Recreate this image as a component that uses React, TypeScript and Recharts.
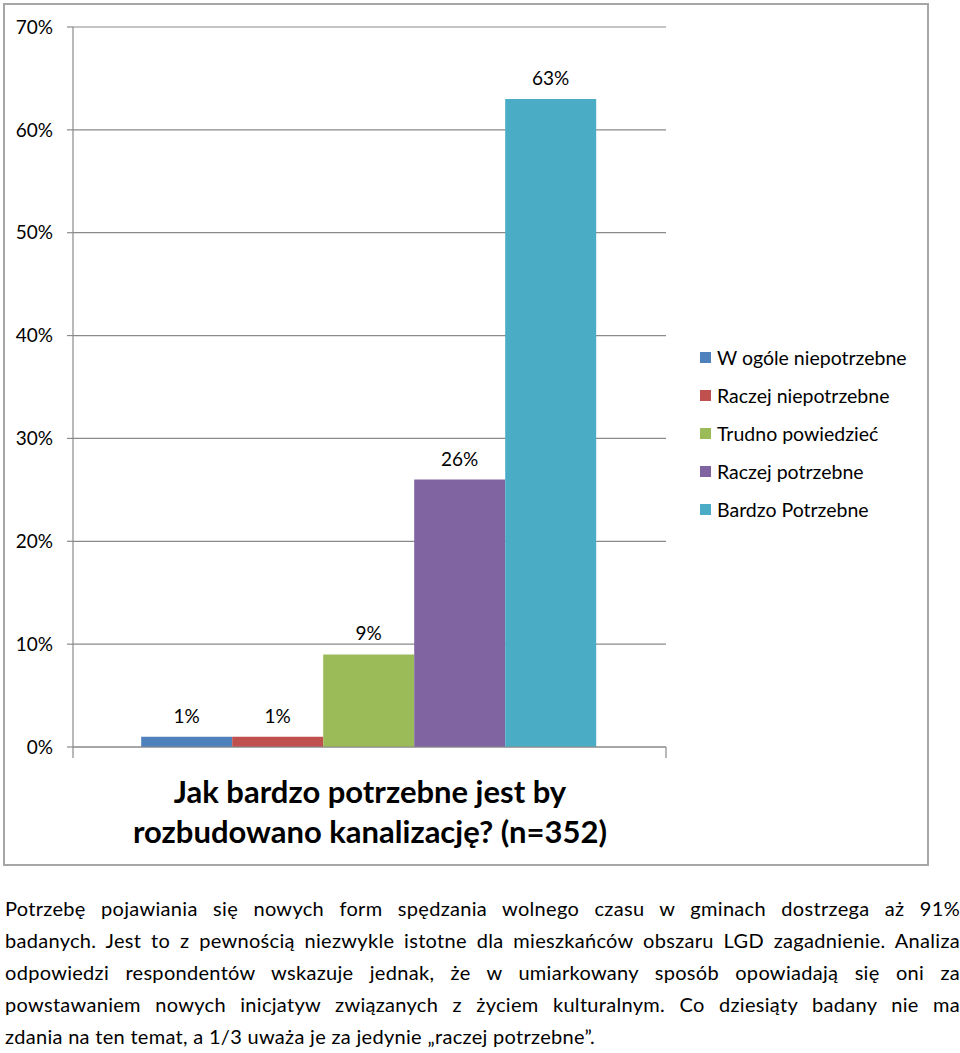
import { BarChart, Bar, XAxis, YAxis, CartesianGrid, Legend, LabelList } from "recharts";

const categories = ["Jak bardzo potrzebne jest by rozbudowano kanalizację? (n=352)"];
const titleLines = ["Jak bardzo potrzebne jest by", "rozbudowano kanalizację? (n=352)"];
const seriesNames = [
  "W ogóle niepotrzebne",
  "Raczej niepotrzebne",
  "Trudno powiedzieć",
  "Raczej potrzebne",
  "Bardzo Potrzebne",
];
const seriesValues = [1, 1, 9, 26, 63];
const seriesColors = ["#4F81BD", "#C0504D", "#9BBB59", "#8064A2", "#4BACC6"];
const yTicks = [0, 10, 20, 30, 40, 50, 60, 70];
const paragraphLines = [
  "Potrzebę pojawiania się nowych form spędzania wolnego czasu w gminach dostrzega aż 91%",
  "badanych. Jest to z pewnością niezwykle istotne dla mieszkańców obszaru LGD zagadnienie. Analiza",
  "odpowiedzi respondentów wskazuje jednak, że w umiarkowany sposób opowiadają się oni za",
  "powstawaniem nowych inicjatyw związanych z życiem kulturalnym. Co dziesiąty badany nie ma",
  "zdania na ten temat, a 1/3 uważa je za jedynie „raczej potrzebne”.",
];

const data = categories.map((name) => {
  const row: Record<string, string | number> = { name };
  seriesNames.forEach((s, i) => (row[s] = seriesValues[i]));
  return row;
});

const font = "Lato, 'Open Sans', sans-serif";
const gray = "#8a8a8a";

function LegendBox({ payload }: any) {
  const items = [...(payload || [])].sort(
    (a: any, b: any) => seriesNames.indexOf(a.value) - seriesNames.indexOf(b.value)
  );
  return (
    <div>
      {items.map((p: any) => (
        <div key={p.value} style={{ height: 38, display: "flex", alignItems: "center", fontSize: 19.5, color: "#000" }}>
          <span style={{ width: 11, height: 11, background: p.color, display: "inline-block", marginRight: 6 }} />
          {p.value}
        </div>
      ))}
    </div>
  );
}

// category boundary tick marks (Excel style), label is drawn as the title below
function BoundaryTick(props: any) {
  const { x, y, payload, width } = props;
  const half = payload && typeof payload.offset === "number" && payload.offset > 0 ? payload.offset : width / 2;
  return (
    <g>
      <line x1={x - half} x2={x - half} y1={y} y2={y + 11} stroke={gray} strokeWidth={1.2} />
      <line x1={x + half} x2={x + half} y1={y} y2={y + 11} stroke={gray} strokeWidth={1.2} />
    </g>
  );
}

export default function App() {
  return (
    <div style={{ position: "absolute", left: 0, top: 0, width: 960, height: 1053, background: "#fff", fontFamily: font }}>
      <div
        style={{
          position: "absolute",
          left: 3,
          top: 3,
          width: 922,
          height: 859,
          border: "2px solid #a6a6a6",
        }}
      />
      <div style={{ position: "absolute", left: 0, top: 0 }}>
        <BarChart
          width={930}
          height={870}
          data={data}
          margin={{ top: 27, left: 0, right: 264, bottom: 112 }}
          barCategoryGap="11.5%"
          barGap={0}
        >
          <CartesianGrid vertical={false} stroke={gray} strokeWidth={1.2} />
          <XAxis
            dataKey="name"
            height={11}
            tickLine={false}
            tickSize={0}
            tickMargin={0}
            tick={<BoundaryTick />}
            stroke={gray}
            strokeWidth={1.2}
            interval={0}
          />
          <YAxis
            width={73}
            domain={[0, 70]}
            ticks={yTicks}
            tickFormatter={(v) => `${v}%`}
            tickSize={6}
            tickMargin={14}
            tick={{ fill: "#000", fontSize: 19 }}
            stroke={gray}
            strokeWidth={1.2}
            interval={0}
          />
          <Legend
            layout="vertical"
            align="center"
            verticalAlign="middle"
            content={<LegendBox />}
            wrapperStyle={{ left: 700, top: 338, width: 230 }}
          />
          {seriesNames.map((s, i) => (
            <Bar key={s} dataKey={s} fill={seriesColors[i]} isAnimationActive={false}>
              <LabelList
                dataKey={s}
                position="top"
                offset={14}
                formatter={(v: any) => `${v}%`}
                style={{ fill: "#000", fontSize: 19 }}
              />
            </Bar>
          ))}
        </BarChart>
      </div>
      <div
        style={{
          position: "absolute",
          left: 20,
          top: 771,
          width: 700,
          textAlign: "center",
          fontWeight: 700,
          fontSize: 31,
          lineHeight: "40px",
          color: "#000",
        }}
      >
        {titleLines.map((t) => (
          <div key={t}>{t}</div>
        ))}
      </div>
      <div
        style={{
          position: "absolute",
          left: 5,
          top: 892,
          width: 955,
          fontSize: 20,
          letterSpacing: 0.3,
          lineHeight: "32px",
          color: "#000",
        }}
      >
        {paragraphLines.map((l, i) => (
          <div
            key={i}
            style={{
              textAlign: "justify",
              textAlignLast: i === paragraphLines.length - 1 ? "left" : "justify",
              whiteSpace: "nowrap",
            }}
          >
            {l}
          </div>
        ))}
      </div>
    </div>
  );
}
